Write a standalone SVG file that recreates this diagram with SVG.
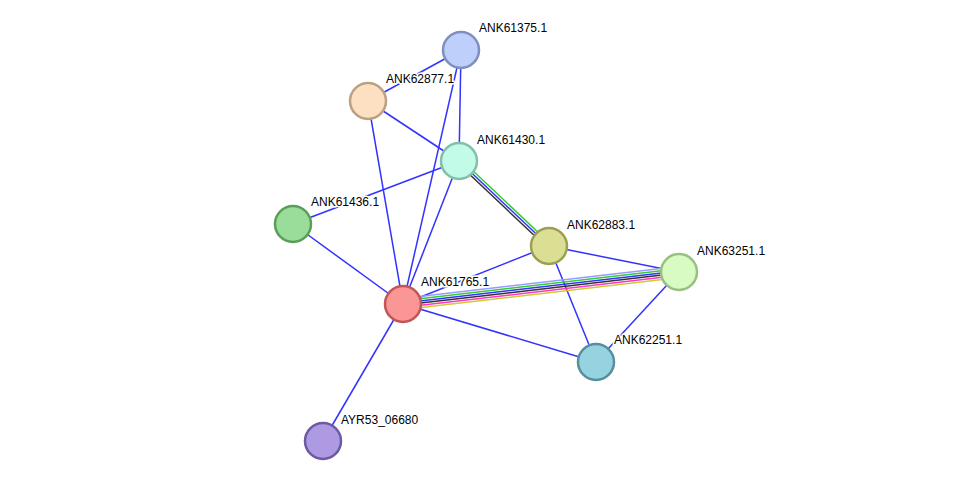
<svg xmlns="http://www.w3.org/2000/svg" width="976" height="487" viewBox="0 0 976 487">
<style>
.e{stroke:#3333ff;stroke-width:1.5;fill:none}
.n{stroke-width:2.5}
.t{font-family:"Liberation Sans",Arial,sans-serif;font-size:12px;fill:#000;stroke:#fff;stroke-width:3;paint-order:stroke;stroke-linejoin:round}
</style>
<rect width="976" height="487" fill="#fff"/>
<g id="connectors" stroke-width="1.5" fill="none">
<line class="e" x1="461" y1="50" x2="368" y2="101"/>
<line class="e" x1="461" y1="50" x2="459" y2="161"/>
<line class="e" x1="461" y1="50" x2="403" y2="304"/>
<line class="e" x1="368" y1="101" x2="459" y2="161"/>
<line class="e" x1="368" y1="101" x2="403" y2="304"/>
<line class="e" x1="459" y1="161" x2="293" y2="224"/>
<line class="e" x1="459" y1="161" x2="403" y2="304"/>
<line x1="460.7" y1="159.2" x2="550.7" y2="244.2" stroke="#33cc33"/>
<line x1="459" y1="161" x2="549" y2="246" stroke="#3333ff"/>
<line x1="457.3" y1="162.8" x2="547.3" y2="247.8" stroke="#333333"/>
<line class="e" x1="293" y1="224" x2="403" y2="304"/>
<line class="e" x1="549" y1="246" x2="403" y2="304"/>
<line class="e" x1="549" y1="246" x2="679" y2="272"/>
<line class="e" x1="549" y1="246" x2="596" y2="362"/>
<line x1="402.4" y1="298.5" x2="678.4" y2="266.5" stroke="#9999ff"/>
<line x1="402.6" y1="300.7" x2="678.6" y2="268.7" stroke="#33cc33"/>
<line x1="402.9" y1="302.9" x2="678.9" y2="270.9" stroke="#3333ff"/>
<line x1="403.1" y1="305.1" x2="679.1" y2="273.1" stroke="#333333"/>
<line x1="403.4" y1="307.3" x2="679.4" y2="275.3" stroke="#ff33cc"/>
<line x1="403.6" y1="309.5" x2="679.6" y2="277.5" stroke="#cccc33"/>
<line class="e" x1="679" y1="272" x2="596" y2="362"/>
<line class="e" x1="403" y1="304" x2="596" y2="362"/>
<line class="e" x1="403" y1="304" x2="323" y2="441"/>
</g>
<g id="ANK61375.1"><circle class="n" cx="461" cy="50" r="18" fill="#bfcffb" stroke="#7f8fbf"/><text class="t" x="479" y="32">ANK61375.1</text></g>
<g id="ANK62877.1"><circle class="n" cx="368" cy="101" r="18" fill="#fde0c2" stroke="#bda082"/><text class="t" x="386" y="83">ANK62877.1</text></g>
<g id="ANK61430.1"><circle class="n" cx="459" cy="161" r="18" fill="#c2fbe8" stroke="#82c0a8"/><text class="t" x="477" y="144">ANK61430.1</text></g>
<g id="ANK61436.1"><circle class="n" cx="293" cy="224" r="18" fill="#9add9a" stroke="#5a9e5a"/><text class="t" x="311" y="206">ANK61436.1</text></g>
<g id="ANK62883.1"><circle class="n" cx="549" cy="246" r="18" fill="#dadf94" stroke="#9a9f54"/><text class="t" x="567" y="229">ANK62883.1</text></g>
<g id="ANK63251.1"><circle class="n" cx="679" cy="272" r="18" fill="#d8fbc2" stroke="#98c082"/><text class="t" x="697" y="255">ANK63251.1</text></g>
<g id="ANK61765.1"><circle class="n" cx="403" cy="304" r="18" fill="#fa9696" stroke="#c05656"/><text class="t" x="421" y="286">ANK61765.1</text></g>
<g id="ANK62251.1"><circle class="n" cx="596" cy="362" r="18" fill="#96d3e0" stroke="#5690a0"/><text class="t" x="614" y="344">ANK62251.1</text></g>
<g id="AYR53_06680"><circle class="n" cx="323" cy="441" r="18" fill="#ad9ae2" stroke="#6d5aa2"/><text class="t" x="341" y="424">AYR53_06680</text></g>
</svg>
